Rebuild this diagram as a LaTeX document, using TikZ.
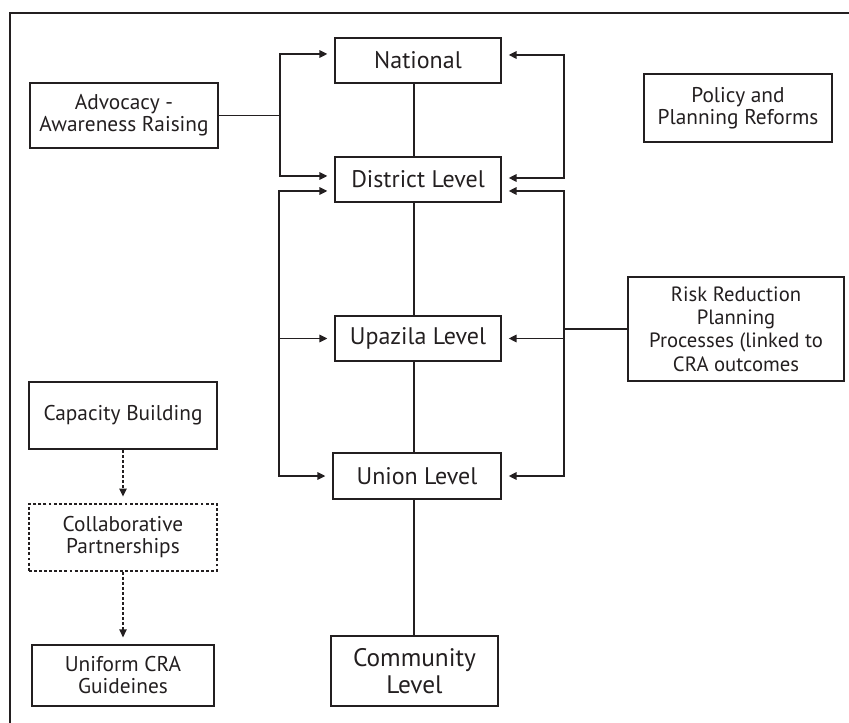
\documentclass[tikz,border=0pt]{standalone}
\usepackage{fontspec}
\setmainfont{PT Sans}
\usetikzlibrary{arrows.meta,calc}
\definecolor{ink}{HTML}{231F20}
\tikzset{
  box/.style={draw=ink,line width=1.4pt,inner sep=0pt,align=center,text=ink},
  lvl/.style={box,font=\fontsize{18}{20}\selectfont},
  side/.style={box,font=\fontsize{16}{16.5}\selectfont},
  conn/.style={draw=ink,line width=1.35pt},
  arr/.style={conn,-{Triangle[length=6pt,width=5.5pt]},shorten >=5pt},
  darr/.style={conn,line width=1.1pt,dash pattern=on 2.2pt off 1.6pt,-{Triangle[length=6pt,width=5.5pt]},shorten >=5pt},
  biarr/.style={conn,{Triangle[length=6pt,width=5.5pt]}-{Triangle[length=6pt,width=5.5pt]},shorten >=5pt,shorten <=5pt},
}
\begin{document}
\begin{tikzpicture}[x=0.75pt,y=-0.75pt]
\useasboundingbox (0,0) rectangle (849,723);
% frame
\draw[ink,line width=1.1pt] (10,723) -- (10,13) -- (849,13);
% level boxes
\node[lvl,minimum width=124.5pt,minimum height=33.75pt] (nat) at (418,60.5) {National};
\node[lvl,minimum width=124.5pt,minimum height=33.75pt] (dis) at (418,179.5) {District Level};
\node[lvl,minimum width=124.5pt,minimum height=33.75pt] (upa) at (418,338.5) {Upazila Level};
\node[lvl,minimum width=126pt,minimum height=34.5pt] (uni) at (417,476) {Union Level};
\node[lvl,font=\fontsize{19}{20.5}\selectfont,minimum width=125.25pt,minimum height=52.5pt] (com) at (414.5,671) {Community\\Level};
% side boxes
\node[side,minimum width=141pt,minimum height=48.75pt] (adv) at (124,115.5) {Advocacy -\\Awareness Raising};
\node[side,minimum width=141pt,minimum height=51pt] (pol) at (738,108) {Policy and\\Planning Reforms};
\node[side,font=\fontsize{15.5}{17.5}\selectfont,minimum width=162pt,minimum height=78pt] (risk) at (736,329) {Risk Reduction\\Planning\\Processes (linked to\\CRA outcomes};
\node[side,minimum width=141pt,minimum height=50.25pt] (cap) at (123,415.5) {Capacity Building};
\node[side,dash pattern=on 2.2pt off 1.6pt,line width=1.1pt,minimum width=141pt,minimum height=50.25pt] (col) at (123,537.5) {Collaborative\\Partnerships};
\node[side,minimum width=136.5pt,minimum height=45.75pt] (cra) at (123,675.5) {Uniform CRA\\Guideines};
% helper coordinates
\coordinate (sp) at (414,0);
\coordinate (ax) at (280,0);
\coordinate (lx) at (279,0);
\coordinate (rx) at (564,0);
\coordinate (nWt) at ($(nat.west)+(0,-6.5)$);
\coordinate (dWt) at ($(dis.west)+(0,-3.5)$);
\coordinate (dWb) at ($(dis.west)+(0,11.5)$);
\coordinate (nEt) at ($(nat.east)+(0,-5.5)$);
\coordinate (dEt) at ($(dis.east)+(0,-1.5)$);
\coordinate (dEb) at ($(dis.east)+(0,11.5)$);
% spine
\draw[conn] (nat.south -| sp) -- (dis.north -| sp);
\draw[conn] (dis.south -| sp) -- (upa.north -| sp);
\draw[conn] (upa.south -| sp) -- (uni.north -| sp);
\draw[conn] (uni.south -| sp) -- (com.north -| sp);
% advocacy
\draw[conn] (adv.east) -- (adv.east -| ax);
\draw[biarr] (nWt) -| (dWt -| ax) -- (dWt);
% left bundle
\draw[biarr] (dWb) -| (uni.west -| lx) -- (uni.west);
\draw[arr] (upa.west -| lx) -- (upa.west);
% right top
\draw[biarr] (nEt) -| (dEt -| rx) -- (dEt);
% right bundle
\draw[biarr] (dEb) -| (uni.east -| rx) -- (uni.east);
\draw[arr] (upa.east -| rx) -- (upa.east);
\draw[conn] (risk.west) -- (risk.west -| rx);
% left chain
\draw[darr] (cap.south) -- (col.north);
\draw[darr] (col.south) -- (cra.north);
\end{tikzpicture}
\end{document}
